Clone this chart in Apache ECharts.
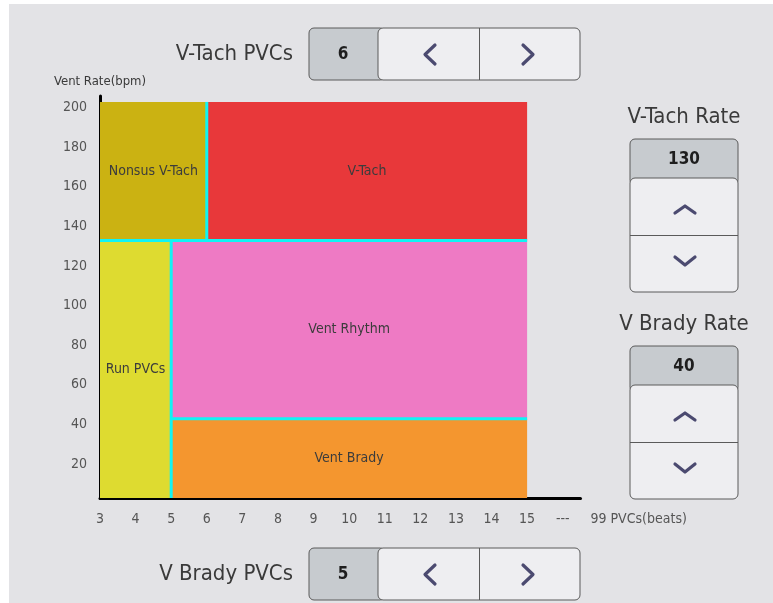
<!DOCTYPE html>
<html>
<head>
<meta charset="utf-8">
<script src="https://cdn.jsdelivr.net/npm/echarts@6/dist/echarts.min.js"></script>
<style>
  html, body { margin: 0; padding: 0; background: #fff; }
  #main { width: 773px; height: 603px; }
</style>
</head>
<body>
<div id="main"></div>
<script>
  // current arrhythmia settings
  var settingNames = ['V-Tach PVCs', 'V Brady PVCs', 'V-Tach Rate', 'V Brady Rate']
  var settingValues = [6, 5, 130, 40]

  // x axis tick labels (PVC count), 16 stands for the gap before 99
  var xTickValues = [3, 4, 5, 6, 7, 8, 9, 10, 11, 12, 13, 14, 15, 16]
  var xTickLabels = ['3', '4', '5', '6', '7', '8', '9', '10', '11', '12', '13', '14', '15', '---']
  var yTickValues = [20, 40, 60, 80, 100, 120, 140, 160, 180, 200]

  // zones: [pvc from, pvc to, rate from, rate to]
  var zoneNames = ['Nonsus V-Tach', 'V-Tach', 'Run PVCs', 'Vent Rhythm', 'Vent Brady']
  var zonePvcFrom = [3, 6, 3, 5, 5]
  var zonePvcTo = [6, 15, 5, 15, 15]
  var zoneRateFrom = [130, 130, 0, 40, 0]
  var zoneRateTo = [200, 200, 130, 130, 40]

  // separator lines: [x0, y0, x1, y1]
  var sepX0 = [6, 5, 3, 5]
  var sepY0 = [130, 0, 130, 40]
  var sepX1 = [6, 5, 15, 15]
  var sepY1 = [200, 130, 130, 40]

  var zoneColors = ['#cbb212', '#e8383a', '#dedb30', '#ee7ac4', '#f4962f']
  var FONT = '"Liberation Sans Narrow", "DejaVu Sans Condensed", sans-serif'

  var zoneData = zoneNames.map(function (n, i) {
    return [zonePvcFrom[i], zonePvcTo[i], zoneRateFrom[i], zoneRateTo[i], n]
  })
  var sepData = sepX0.map(function (x, i) {
    return [x, sepY0[i], sepX1[i], sepY1[i]]
  })

  // ---- UI controls drawn around the chart ----
  function chevron (pts) {
    return {
      type: 'polyline',
      shape: { points: pts },
      style: { stroke: '#4b4a70', lineWidth: 3.2, fill: null, lineCap: 'round', lineJoin: 'round' }
    }
  }
  function hSpinner (label, value, top) {
    return [
      { type: 'text', x: 293, y: top + 26, style: { text: label, font: '22px ' + FONT, fill: '#3a3a3a', align: 'right', verticalAlign: 'middle' } },
      { type: 'rect', shape: { x: 309, y: top, width: 76, height: 52, r: 5 }, style: { fill: '#c7cbcf', stroke: '#5a5a5a', lineWidth: 1 } },
      { type: 'text', x: 343, y: top + 27, style: { text: String(value), font: 'bold 17px ' + FONT, fill: '#1e1e1e', align: 'center', verticalAlign: 'middle' } },
      { type: 'rect', shape: { x: 378, y: top, width: 202, height: 52, r: 5 }, style: { fill: '#eeeef1', stroke: '#5a5a5a', lineWidth: 1 } },
      { type: 'line', shape: { x1: 479.5, y1: top, x2: 479.5, y2: top + 52 }, style: { stroke: '#5a5a5a', lineWidth: 1 } },
      chevron([[435, top + 17], [425, top + 26.5], [435, top + 36]]),
      chevron([[523, top + 17], [533, top + 26.5], [523, top + 36]])
    ]
  }
  function vSpinner (label, value, top) {
    return [
      { type: 'text', x: 684, y: top - 22, style: { text: label, font: '22px ' + FONT, fill: '#3a3a3a', align: 'center', verticalAlign: 'middle' } },
      { type: 'rect', shape: { x: 630, y: top, width: 108, height: 46, r: 5 }, style: { fill: '#c7cbcf', stroke: '#5a5a5a', lineWidth: 1 } },
      { type: 'text', x: 684, y: top + 21, style: { text: String(value), font: 'bold 17px ' + FONT, fill: '#1e1e1e', align: 'center', verticalAlign: 'middle' } },
      { type: 'rect', shape: { x: 630, y: top + 39, width: 108, height: 114, r: 5 }, style: { fill: '#eeeef1', stroke: '#5a5a5a', lineWidth: 1 } },
      { type: 'line', shape: { x1: 630, y1: top + 96.5, x2: 738, y2: top + 96.5 }, style: { stroke: '#5a5a5a', lineWidth: 1 } },
      chevron([[675, top + 74], [685, top + 67], [695, top + 74]]),
      chevron([[675, top + 118], [685, top + 126], [695, top + 118]])
    ]
  }

  var graphics = [
    { type: 'rect', z: -10, shape: { x: 9, y: 4, width: 764, height: 599 }, style: { fill: '#e3e3e6' } }
  ]
    .concat(hSpinner(settingNames[0], settingValues[0], 28))
    .concat(hSpinner(settingNames[1], settingValues[1], 548))
    .concat(vSpinner(settingNames[2], settingValues[2], 139))
    .concat(vSpinner(settingNames[3], settingValues[3], 346))

  var chart = echarts.init(document.getElementById('main'))
  chart.setOption({
    backgroundColor: '#fff',
    animation: false,
    graphic: graphics,
    grid: { left: 100, right: 192.5, top: 96, bottom: 105 },
    xAxis: {
      type: 'value',
      min: 3,
      max: 16.5,
      interval: 1,
      name: '99 PVCs(beats)',
      nameLocation: 'end',
      nameGap: 10,
      nameTextStyle: { color: '#555', fontSize: 14, fontFamily: FONT, verticalAlign: 'top', padding: [14, 0, 0, 0] },
      axisLine: { lineStyle: { color: '#000', width: 3 } },
      axisTick: { show: false },
      splitLine: { show: false },
      axisLabel: {
        color: '#555',
        fontSize: 14,
        fontFamily: FONT,
        margin: 14,
        showMaxLabel: false,
        formatter: function (v) {
          var i = xTickValues.indexOf(v)
          return i >= 0 ? xTickLabels[i] : ''
        }
      }
    },
    yAxis: {
      type: 'value',
      min: 0,
      max: 203,
      interval: 20,
      name: 'Vent Rate(bpm)',
      nameLocation: 'end',
      nameGap: 8,
      nameTextStyle: { color: '#3a3a3a', fontSize: 13, fontFamily: FONT, align: 'center' },
      axisLine: { lineStyle: { color: '#000', width: 3 } },
      axisTick: { show: false },
      splitLine: { show: false },
      axisLabel: {
        color: '#555',
        fontSize: 14,
        fontFamily: FONT,
        margin: 13,
        verticalAlign: 'top',
        lineHeight: 11,
        formatter: function (v) {
          return yTickValues.indexOf(v) >= 0 ? String(v) : ''
        }
      }
    },
    series: [
      {
        type: 'custom',
        data: zoneData,
        renderItem: function (params, api) {
          var p0 = api.coord([api.value(0), api.value(3)])
          var p1 = api.coord([api.value(1), api.value(2)])
          var w = p1[0] - p0[0]
          var h = p1[1] - p0[1]
          return {
            type: 'group',
            children: [
              { type: 'rect', shape: { x: p0[0], y: p0[1], width: w, height: h }, style: { fill: zoneColors[params.dataIndex] } },
              {
                type: 'text',
                x: p0[0] + w / 2,
                y: p0[1] + h / 2,
                style: { text: zoneNames[params.dataIndex], font: '14px ' + FONT, fill: '#3c3c3c', align: 'center', verticalAlign: 'middle' }
              }
            ]
          }
        }
      },
      {
        type: 'custom',
        data: sepData,
        renderItem: function (params, api) {
          var a = api.coord([api.value(0), api.value(1)])
          var b = api.coord([api.value(2), api.value(3)])
          return {
            type: 'line',
            shape: { x1: a[0], y1: a[1], x2: b[0], y2: b[1] },
            style: { stroke: '#10f4f4', lineWidth: 3 }
          }
        }
      }
    ]
  })
</script>
</body>
</html>
